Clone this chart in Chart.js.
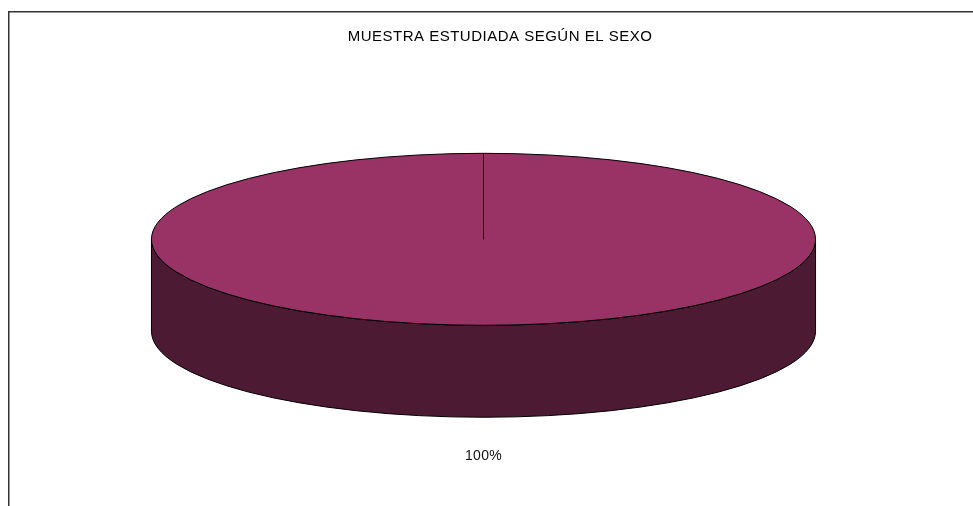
<!DOCTYPE html>
<html>
<head>
<meta charset="utf-8">
<script src="https://cdn.jsdelivr.net/npm/chart.js@4"></script>
<style>
  body { margin: 0; background: #fff; }
  canvas { display: block; }
</style>
</head>
<body>
<canvas id="myChart" width="973" height="506"></canvas>
<script>
  const titulo = "MUESTRA ESTUDIADA SEGÚN EL SEXO";
  const categorias = ["Femenino"];
  const porcentajes = [100];
  const coloresTapa = ["#993366"];
  const coloresLado = ["#4d1a33"];

  // look of the fake 3D pie
  const STRETCH = 1.788;
  const TILT = 0.259;
  const DEPTH = 0.277;
  const LABEL_GAP = 39;
  const FONT = "'Liberation Sans', Arial, sans-serif";

  function geom(arc) {
    const p = arc.getProps(["x", "y", "outerRadius", "startAngle", "endAngle"], true);
    const rx = p.outerRadius * STRETCH;
    return { ...p, rx: rx, ry: rx * TILT, d: rx * DEPTH };
  }

  const marco = {
    id: "marco",
    beforeDraw(chart) {
      const ctx = chart.ctx;
      ctx.save();
      ctx.strokeStyle = "#333";
      ctx.lineWidth = 1.5;
      ctx.beginPath();
      ctx.moveTo(8.75, chart.height);
      ctx.lineTo(8.75, 11.75);
      ctx.lineTo(chart.width, 11.75);
      ctx.stroke();
      // title sits a bit right of the pie centre, like in the original
      ctx.fillStyle = "#000";
      ctx.font = "15px " + FONT;
      ctx.letterSpacing = "0.5px";
      ctx.textAlign = "center";
      ctx.textBaseline = "middle";
      ctx.fillText(titulo, 500, 36.5);
      ctx.restore();
    },
  };

  const pie3d = {
    id: "pie3d",
    beforeDatasetsDraw(chart) {
      const ctx = chart.ctx;
      const arcs = chart.getDatasetMeta(0).data;
      if (!arcs.length) return;
      ctx.save();
      ctx.strokeStyle = "#000";
      ctx.lineWidth = 1;
      arcs.forEach((arc, i) => {
        const g = geom(arc);
        [0, 2 * Math.PI].forEach((off) => {
          const lo = Math.max(g.startAngle, off);
          const hi = Math.min(g.endAngle, Math.PI + off);
          if (lo >= hi) return;
          ctx.beginPath();
          ctx.ellipse(g.x, g.y, g.rx, g.ry, 0, lo, hi);
          ctx.lineTo(g.x + g.rx * Math.cos(hi), g.y + g.ry * Math.sin(hi) + g.d);
          ctx.ellipse(g.x, g.y + g.d, g.rx, g.ry, 0, hi, lo, true);
          ctx.closePath();
          ctx.fillStyle = coloresLado[i % coloresLado.length];
          ctx.fill();
          ctx.stroke();
        });
      });
      ctx.restore();
      // squash the real pie into the top face
      const g = geom(arcs[0]);
      ctx.save();
      ctx.translate(g.x, g.y);
      ctx.scale(STRETCH, STRETCH * TILT);
      ctx.translate(-g.x, -g.y);
    },
    afterDatasetsDraw(chart) {
      const ctx = chart.ctx;
      const arcs = chart.getDatasetMeta(0).data;
      if (!arcs.length) return;
      ctx.restore();
      ctx.save();
      ctx.strokeStyle = "#000";
      ctx.lineWidth = 1;
      const total = porcentajes.reduce((a, b) => a + b, 0);
      arcs.forEach((arc, i) => {
        const g = geom(arc);
        ctx.beginPath();
        ctx.moveTo(g.x, g.y);
        ctx.lineTo(g.x + g.rx * Math.cos(g.startAngle), g.y + g.ry * Math.sin(g.startAngle));
        ctx.ellipse(g.x, g.y, g.rx, g.ry, 0, g.startAngle, g.endAngle);
        ctx.closePath();
        ctx.stroke();

        const mid = (g.startAngle + g.endAngle) / 2;
        const s = Math.sin(mid);
        const lx = g.x + (g.rx + LABEL_GAP) * Math.cos(mid);
        const ly = g.y + (g.ry + LABEL_GAP) * s + (s > 0 ? g.d : 0);
        ctx.fillStyle = "#111";
        ctx.font = "14px " + FONT;
        ctx.letterSpacing = "0.3px";
        ctx.textAlign = "center";
        ctx.textBaseline = "middle";
        ctx.fillText(Math.round((porcentajes[i] / total) * 100) + "%", lx, ly);
      });
      ctx.restore();
    },
  };

  const data = {
    labels: categorias,
    datasets: [
      {
        data: porcentajes,
        backgroundColor: coloresTapa,
        borderWidth: 0,
        hoverOffset: 0,
      },
    ],
  };

  const config = {
    type: "pie",
    data,
    options: {
      responsive: false,
      animation: false,
      events: [],
      layout: {
        padding: { left: 0, right: 6, top: 53.6, bottom: 81 },
      },
      plugins: {
        legend: { display: false },
        tooltip: { enabled: false },
        title: { display: false },
      },
    },
    plugins: [marco, pie3d],
  };

  var myChart = new Chart(document.getElementById("myChart"), config);
</script>
</body>
</html>
